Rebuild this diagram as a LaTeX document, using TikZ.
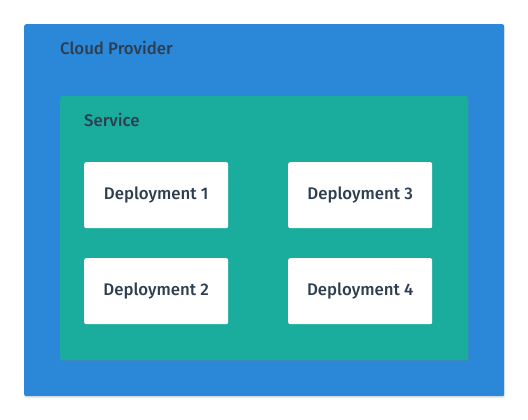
\documentclass[tikz,border=0pt]{standalone}
\usepackage{fontspec}
\setmainfont{Fira Sans}[UprightFont={* Medium}]
\usetikzlibrary{positioning, shadows}
\definecolor{cblue}{HTML}{2B88D8}
\definecolor{cteal}{HTML}{1AAC9C}
\definecolor{ctext}{HTML}{2D3E50}
\tikzset{
  every picture/.style={x=1pt, y=-1pt, font=\fontsize{16.8}{19}\selectfont, text=ctext},
  panel/.style={fill=#1, rounded corners=2pt, inner sep=0pt, anchor=north west,
    drop shadow={shadow xshift=1pt, shadow yshift=-2pt, opacity=0.18}},
  deploy/.style={fill=white, rounded corners=2pt, minimum width=144pt, minimum height=66pt, inner sep=0pt, anchor=north west},
  label/.style={anchor=west, inner sep=0pt},
}

\begin{document}
\begin{tikzpicture}
  \useasboundingbox (0,0) rectangle (528,420);
  \node[panel=cblue, minimum width=480pt, minimum height=372pt] (cloud) at (24,24) {};
  \node[label] (cloudlbl) at (60,48) {Cloud Provider};
  \node[panel=cteal, minimum width=408pt, minimum height=264pt] (svc) at (60,96) {};
  \node[label] (svclbl) at (84,120) {Service};
  \node[deploy] (d1) at (84,162)  {Deployment 1};
  \node[deploy] (d2) at (84,258)  {Deployment 2};
  \node[deploy] (d3) at (288,162) {Deployment 3};
  \node[deploy] (d4) at (288,258) {Deployment 4};
\end{tikzpicture}
\end{document}
